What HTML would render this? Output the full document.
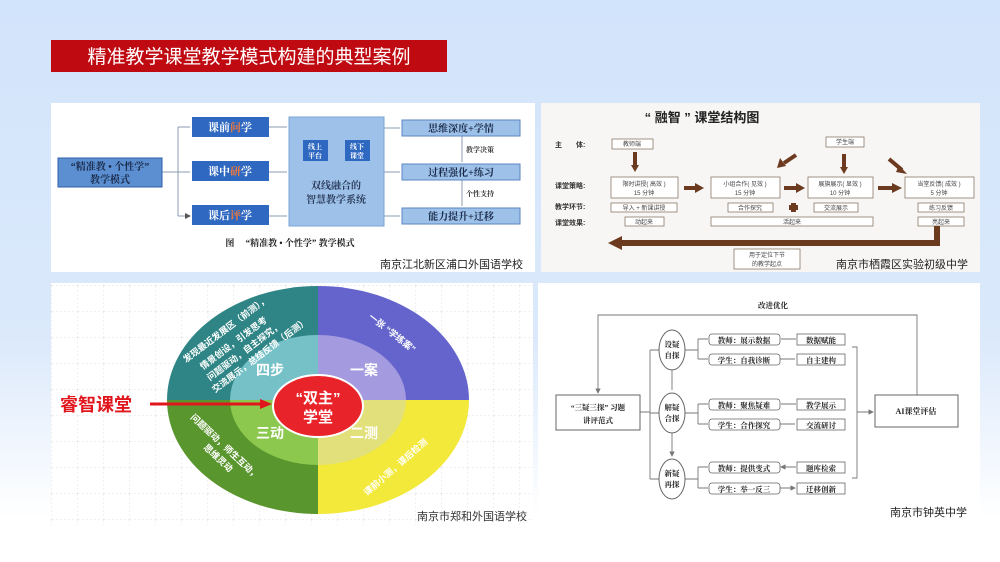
<!DOCTYPE html>
<html><head><meta charset="utf-8"><style>
html,body{margin:0;padding:0;width:1000px;height:562px;overflow:hidden;background:linear-gradient(#d2e4fb 0%,#dbe9fb 60%,#ffffff 92%);}
svg{position:absolute;left:0;top:0;font-family:"Liberation Sans","Noto Sans CJK SC",sans-serif;}
.s{font-family:"Liberation Serif","Noto Serif CJK SC",serif;font-weight:bold;}
</style></head><body>
<svg width="1000" height="562" viewBox="0 0 1000 562">
<defs>
<marker id="ag" markerWidth="6" markerHeight="6" refX="5" refY="3" orient="auto"><path d="M0,0L6,3L0,6z" fill="#777"/></marker>
<marker id="ab" markerWidth="6" markerHeight="6" refX="5" refY="3" orient="auto"><path d="M0,0L6,3L0,6z" fill="#555"/></marker>
<pattern id="grid" width="26" height="26" patternUnits="userSpaceOnUse"><path d="M26 0V26M0 26H26" stroke="#e3e3e3" stroke-width="1" stroke-dasharray="2,2" fill="none"/></pattern>
</defs>
<rect x="51" y="40" width="396" height="32" fill="#c00a12"/>
<text x="249" y="63" text-anchor="middle" font-size="19" fill="#fff">精准教学课堂教学模式构建的典型案例</text>

<!-- Panel 1 -->
<rect x="51" y="103" width="484" height="169" fill="#fff"/>
<g stroke="#8a9bb0" stroke-width="1" fill="none">
<path d="M162 172H178M178 127V216M178 127H190M178 172H190M178 216H190" marker-end="url(#ab)"/>
<path d="M269 127H287M269 172H287M269 216H287"/>
<path d="M384 128H400M384 172H400M384 216H400"/>
<path d="M462 136V162M462 180V206"/>
<path d="M328 147H345M345 154H328"/>
</g>
<rect x="58" y="158" width="104" height="29" fill="#5b8fd1" stroke="#2f5fa6"/>
<text x="110" y="170" text-anchor="middle" font-size="10" class="s" fill="#1a2a4a">“精准教 • 个性学”</text>
<text x="110" y="183" text-anchor="middle" font-size="10" class="s" fill="#1a2a4a">教学模式</text>
<g fill="#2f68c0"><rect x="192" y="117" width="77" height="20"/><rect x="192" y="161" width="77" height="20"/><rect x="192" y="205" width="77" height="20"/></g>
<g font-size="11" class="s" fill="#fff" text-anchor="middle">
<text x="230" y="131">课前<tspan fill="#f07a3a">问</tspan>学</text>
<text x="230" y="175">课中<tspan fill="#f07a3a">研</tspan>学</text>
<text x="230" y="219">课后<tspan fill="#f07a3a">评</tspan>学</text>
</g>
<rect x="289" y="117" width="95" height="109" fill="#9dc1e8" stroke="#7aa3d4"/>
<rect x="303" y="140" width="25" height="21" fill="#2f68c0"/><rect x="345" y="140" width="25" height="21" fill="#2f68c0"/>
<g font-size="7" fill="#fff" text-anchor="middle" class="s"><text x="315" y="149">线上</text><text x="315" y="158">平台</text><text x="357" y="149">线下</text><text x="357" y="158">课堂</text></g>
<g font-size="10" fill="#2a3a5a" text-anchor="middle" class="s"><text x="336" y="189">双线融合的</text><text x="336" y="203">智慧教学系统</text></g>
<g fill="#9dc1e8" stroke="#5a86c0"><rect x="402" y="120" width="118" height="16"/><rect x="402" y="164" width="118" height="16"/><rect x="402" y="208" width="118" height="16"/></g>
<g font-size="10" class="s" fill="#1a2a4a" text-anchor="middle"><text x="461" y="132">思维深度+学情</text><text x="461" y="176">过程强化+练习</text><text x="461" y="220">能力提升+迁移</text></g>
<g font-size="7" class="s" fill="#333"><text x="466" y="152">教学决策</text><text x="466" y="196">个性支持</text></g>
<text x="290" y="246" text-anchor="middle" font-size="9" class="s" fill="#222">图　 “精准教 • 个性学” 教学模式</text>
<text x="523" y="268" text-anchor="end" font-size="11" fill="#222">南京江北新区浦口外国语学校</text>

<!-- Panel 2 -->
<rect x="541" y="103" width="439" height="169" fill="#f7f6f4"/>
<text x="702" y="122" text-anchor="middle" font-size="13" font-weight="bold" fill="#222">“ 融智 ” 课堂结构图</text>
<g font-size="7" fill="#333" font-weight="bold"><text x="555" y="147">主　　体:</text><text x="555" y="188">课堂策略:</text><text x="555" y="209">教学环节:</text><text x="555" y="225">课堂效果:</text></g>
<g fill="#fff" stroke="#8a7a6a" stroke-width="0.8">
<rect x="612" y="139" width="41" height="10"/><rect x="826" y="137" width="38" height="10"/>
<rect x="611" y="177" width="67" height="21"/><rect x="711" y="177" width="69" height="21"/><rect x="808" y="177" width="65" height="21"/><rect x="905" y="177" width="69" height="21"/>
<rect x="611" y="203" width="66" height="9"/><rect x="728" y="203" width="45" height="9"/><rect x="814" y="203" width="44" height="9"/><rect x="918" y="203" width="46" height="9"/>
<rect x="625" y="217" width="39" height="9"/><rect x="711" y="217" width="162" height="9"/><rect x="918" y="217" width="46" height="9"/>
<rect x="734" y="249" width="66" height="20"/>
</g>
<g font-size="6" fill="#444" text-anchor="middle">
<text x="632" y="146">教师端</text><text x="845" y="144">学生端</text>
<text x="644" y="186">限时讲授( 高效 )</text><text x="644" y="195">15 分钟</text>
<text x="745" y="186">小组合作( 见效 )</text><text x="745" y="195">15 分钟</text>
<text x="840" y="186">展旗展示( 显效 )</text><text x="840" y="195">10 分钟</text>
<text x="939" y="186">当堂反馈( 成效 )</text><text x="939" y="195">5 分钟</text>
<text x="644" y="210">导入 + 新课讲授</text><text x="750" y="210">合作探究</text><text x="836" y="210">交流展示</text><text x="941" y="210">练习反馈</text>
<text x="644" y="224">动起来</text><text x="792" y="224">活起来</text><text x="941" y="224">亮起来</text>
<text x="767" y="257">用于定位下节</text><text x="767" y="266">的教学起点</text>
</g>
<g stroke="#6b3a1f" stroke-width="4" fill="none">
<path d="M635 152V166"/><path d="M844 154V168"/>
<path d="M684 188H696"/><path d="M784 188H797"/><path d="M878 188H893"/>
<path d="M796 155L784 163"/><path d="M889 159L902 170"/>
<path d="M937 226V243H620" stroke-width="6"/>
</g>
<g fill="#6b3a1f">
<path d="M631 165L639 165L635 172z"/><path d="M840 167L848 167L844 174z"/>
<path d="M695 183L704 188L695 193z"/><path d="M796 183L805 188L796 193z"/><path d="M892 183L902 188L892 193z"/>
<path d="M780 158L777 168L786 166z"/><path d="M899 165L907 174L896 172z"/>
<path d="M622 236L608 243L622 250z"/>
<rect x="791" y="203" width="5" height="9"/><rect x="789" y="205" width="9" height="5"/>
</g>
<text x="968" y="268" text-anchor="end" font-size="11" fill="#222">南京市栖霞区实验初级中学</text>

<!-- Panel 3 -->
<rect x="51" y="283" width="482" height="242" fill="#fff"/>
<rect x="51" y="283" width="482" height="242" fill="url(#grid)"/>
<path d="M318 400V286A151 114 0 0 0 167 400Z" fill="#2f8585"/>
<path d="M318 400V286A151 114 0 0 1 469 400Z" fill="#6464cc"/>
<path d="M318 400H167A151 114 0 0 0 318 514Z" fill="#5a962e"/>
<path d="M318 400H469A151 114 0 0 1 318 514Z" fill="#f2e93a"/>
<path d="M318 400V335A88 65 0 0 0 230 400Z" fill="#76c1c8"/>
<path d="M318 400V335A88 65 0 0 1 406 400Z" fill="#a49ae0"/>
<path d="M318 400H230A88 65 0 0 0 318 465Z" fill="#8cc84e"/>
<path d="M318 400H406A88 65 0 0 1 318 465Z" fill="#e2e07a"/>
<ellipse cx="318" cy="406" rx="45" ry="31" fill="#e8232a" stroke="#fff" stroke-width="2"/>
<g fill="#fff" font-weight="bold" text-anchor="middle">
<text x="318" y="403" font-size="15">“双主”</text><text x="318" y="422" font-size="15">学堂</text>
<text x="270" y="375" font-size="14">四步</text><text x="364" y="375" font-size="14">一案</text>
<text x="270" y="438" font-size="14">三动</text><text x="364" y="438" font-size="14">二测</text>
</g>
<g fill="#fff" font-size="9" font-weight="bold">
<text transform="translate(186,363) rotate(-37)">发现最近发展区（前测），</text>
<text transform="translate(203,370) rotate(-37)">情景创设，引发思考</text>
<text transform="translate(210,381) rotate(-37)">问题驱动，自主探究，</text>
<text transform="translate(215,393) rotate(-37)">交流展示，总结反馈（后测）</text>
<text transform="translate(368,318) rotate(38)">一张 “学练案”</text>
<text transform="translate(190,418) rotate(43)">问题驱动，师生互动，</text>
<text transform="translate(203,448) rotate(43)">思维灵动</text>
<text transform="translate(367,496) rotate(-41)">课前小测，课后检测</text>
</g>
<text x="60" y="411" font-size="18" font-weight="bold" fill="#e0161c">睿智课堂</text>
<path d="M150 404H262" stroke="#e0161c" stroke-width="3"/>
<path d="M260 399L272 404L260 409z" fill="#e0161c"/>
<text x="527" y="520" text-anchor="end" font-size="11" fill="#333">南京市郑和外国语学校</text>

<!-- Panel 4 -->
<rect x="538" y="283" width="442" height="242" fill="#fff"/>
<g stroke="#777" stroke-width="0.9" fill="none">
<path d="M917 395V315H598V393" marker-end="url(#ag)"/>
<path d="M640 412H650M650 350V479M650 350H659M650 413H659M650 479H659"/>
<path d="M672 370V390M672 433V456" marker-end="url(#ag)"/>
<path d="M685 350H698M698 339V359M698 339H708M698 359H708"/>
<path d="M685 413H698M698 404V424M698 404H708M698 424H708"/>
<path d="M685 479H698M698 467V488M698 467H708M698 488H708"/>
<path d="M796 339H781M796 404H781M796 467H781" marker-end="url(#ag)"/>
<path d="M780 359H795M780 424H795M780 488H795" marker-end="url(#ag)"/>
<path d="M852 347H857V478H852M857 412H873" marker-end="url(#ag)"/>
</g>
<rect x="556" y="395" width="84" height="35" fill="#fff" stroke="#666"/>
<rect x="875" y="395" width="83" height="32" fill="#fff" stroke="#666"/>
<g fill="#fff" stroke="#666"><ellipse cx="672" cy="350" rx="13" ry="20"/><ellipse cx="672" cy="413" rx="13" ry="20"/><ellipse cx="672" cy="479" rx="13" ry="20"/></g>
<g fill="#fff" stroke="#666" stroke-width="0.8">
<rect x="709" y="334" width="71" height="11" rx="3"/><rect x="709" y="354" width="71" height="11" rx="3"/>
<rect x="709" y="399" width="71" height="11" rx="3"/><rect x="709" y="419" width="71" height="11" rx="3"/>
<rect x="709" y="462" width="71" height="11" rx="3"/><rect x="709" y="483" width="71" height="11" rx="3"/>
<rect x="797" y="334" width="48" height="11"/><rect x="797" y="354" width="48" height="11"/>
<rect x="797" y="399" width="48" height="11"/><rect x="797" y="419" width="48" height="11"/>
<rect x="797" y="462" width="48" height="11"/><rect x="797" y="483" width="48" height="11"/>
</g>
<g class="s" fill="#222" font-size="7.5" text-anchor="middle">
<text x="773" y="308">改进优化</text>
<text x="598" y="410">“三疑三探” 习题</text><text x="598" y="423">讲评范式</text>
<text x="916" y="414" font-size="8">AI课堂评估</text>
<text x="672" y="347">设疑</text><text x="672" y="358">自探</text>
<text x="672" y="410">解疑</text><text x="672" y="421">合探</text>
<text x="672" y="476">新疑</text><text x="672" y="487">再探</text>
<text x="744" y="343">教师：展示数据</text><text x="744" y="363">学生：自我诊断</text>
<text x="744" y="408">教师：聚焦疑难</text><text x="744" y="428">学生：合作探究</text>
<text x="744" y="471">教师：提供变式</text><text x="744" y="492">学生：举一反三</text>
<text x="821" y="343">数据赋能</text><text x="821" y="363">自主建构</text>
<text x="821" y="408">教学展示</text><text x="821" y="428">交流研讨</text>
<text x="821" y="471">题库检索</text><text x="821" y="492">迁移创新</text>
</g>
<text x="967" y="516" text-anchor="end" font-size="11" fill="#222">南京市钟英中学</text>
</svg>
</body></html>
